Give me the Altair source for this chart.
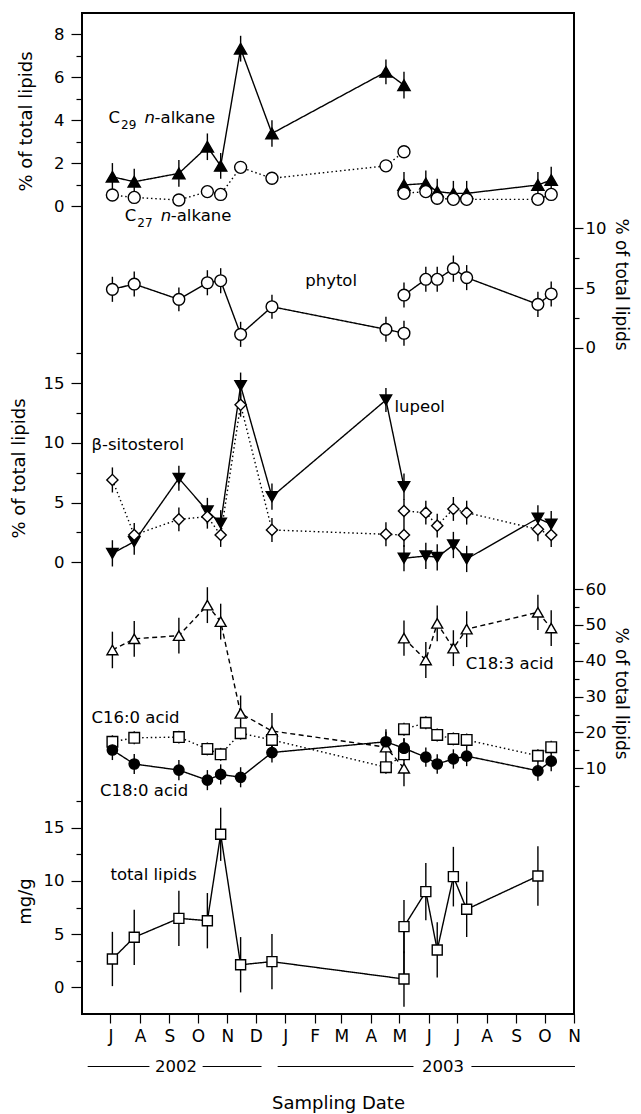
import altair as alt
import pandas as pd

FONT = "DejaVu Sans"

# ---------------- data ----------------
dates_1 = ["2002-07-03", "2002-07-26", "2002-09-11", "2002-10-11", "2002-10-25",
           "2002-11-15", "2002-12-18", "2003-04-17", "2003-05-06"]
dates_2 = ["2003-05-06", "2003-05-29", "2003-06-10", "2003-06-27", "2003-07-11",
           "2003-09-24", "2003-10-08"]
dates_tl = ["2002-07-03", "2002-07-26", "2002-09-11", "2002-10-11", "2002-10-25",
            "2002-11-15", "2002-12-18", "2003-05-06", "2003-05-06", "2003-05-29",
            "2003-06-10", "2003-06-27", "2003-07-11", "2003-09-24"]

c29_v1 = [1.36, 1.13, 1.52, 2.76, 1.87, 7.33, 3.38, 6.25, 5.63]
c29_v2 = [0.98, 1.05, 0.67, 0.59, 0.59, 0.98, 1.21]
c29_e1 = [0.64, 0.60, 0.62, 0.62, 0.60, 0.60, 0.62, 0.58, 0.62]
c29_e2 = [0.60, 0.60, 0.60, 0.58, 0.58, 0.60, 0.62]

c27_v1 = [0.51, 0.40, 0.28, 0.67, 0.54, 1.80, 1.29, 1.87, 2.53]
c27_v2 = [0.59, 0.67, 0.36, 0.31, 0.31, 0.31, 0.54]
c27_e1 = [0.15, 0.15, 0.15, 0.15, 0.15, 0.15, 0.15, 0.15, 0.15]
c27_e2 = [0.15, 0.15, 0.15, 0.15, 0.15, 0.15, 0.15]

phy_v1 = [4.89, 5.33, 4.05, 5.44, 5.61, 1.12, 3.43, 1.54, 1.21]
phy_v2 = [4.41, 5.73, 5.73, 6.62, 5.87, 3.63, 4.50]
phy_e1 = [1.05, 1.05, 1.00, 1.05, 1.05, 1.05, 1.00, 1.05, 1.05]
phy_e2 = [1.05, 1.05, 1.05, 1.10, 1.05, 1.05, 1.05]

lup_v1 = [0.75, 1.73, 7.04, 4.30, 3.27, 14.8, 5.50, 13.6, 6.34]
lup_v2 = [0.34, 0.53, 0.42, 1.45, 0.28, 3.69, 3.19]
lup_e1 = [1.10, 1.10, 1.05, 1.10, 1.10, 1.10, 1.10, 1.00, 1.10]
lup_e2 = [1.10, 1.10, 1.10, 1.10, 1.10, 1.10, 1.10]

sit_v1 = [6.90, 2.29, 3.60, 3.82, 2.29, 13.2, 2.71, 2.35, 2.29]
sit_v2 = [4.30, 4.16, 3.07, 4.47, 4.16, 2.76, 2.29]
sit_e1 = [1.05, 1.00, 1.00, 1.00, 1.00, 1.00, 1.00, 1.00, 1.00]
sit_e2 = [1.00, 1.00, 1.00, 1.00, 1.00, 1.00, 1.00]

c183_v1 = [43.0, 46.1, 47.0, 55.5, 50.9, 25.3, 20.4, 15.9, 10.0]
c183_v2 = [46.3, 40.2, 50.4, 43.5, 48.8, 53.5, 49.1]
c183_e1 = [5.1, 5.0, 5.0, 5.0, 5.0, 5.0, 5.0, 5.0, 5.0]
c183_e2 = [4.9, 5.0, 5.0, 5.0, 5.0, 4.9, 5.0]

c160_v1 = [17.4, 18.5, 18.7, 15.4, 13.9, 19.8, 17.9, 10.3, 13.9]
c160_v2 = [20.9, 22.7, 19.3, 18.2, 17.9, 13.5, 15.9]
c160_e1 = [1.8, 1.8, 1.8, 1.8, 1.8, 1.8, 1.8, 1.8, 1.8]
c160_e2 = [1.8, 1.8, 1.8, 1.8, 1.8, 1.8, 1.8]

c180_v1 = [15.1, 11.2, 9.5, 6.7, 8.3, 7.5, 14.4, 17.4, 15.6]
c180_v2 = [15.6, 13.1, 11.2, 12.6, 13.4, 9.3, 12.0]
c180_e1 = [2.8, 2.8, 2.8, 2.8, 2.8, 2.8, 2.8, 2.8, 2.8]
c180_e2 = [2.8, 2.7, 2.7, 2.7, 2.8, 2.8, 2.8]

tl_v = [2.66, 4.70, 6.48, 6.26, 14.38, 2.12, 2.41, 0.78, 5.70, 8.99, 3.51, 10.4, 7.33, 10.46]
tl_e = [2.55, 2.60, 2.60, 2.60, 2.50, 2.60, 2.60, 2.60, 2.50, 2.70, 2.60, 2.80, 2.60, 2.80]

series_names = ["C29 n-alkane", "C27 n-alkane", "phytol", "lupeol", "β-sitosterol",
                "C18:3 acid", "C16:0 acid", "C18:0 acid", "total lipids"]
month_ticks = [(2002, m) for m in range(7, 13)] + [(2003, m) for m in range(1, 12)]

# ---------------- styles ----------------
shapes = ["triangle-up", "circle", "circle", "triangle-down", "diamond",
          "triangle-up", "square", "circle", "square"]
fills = ["black", "white", "white", "black", "white", "white", "white", "black", "white"]
dashes = [[1, 0], [1.5, 2.8], [1, 0], [1, 0], [1.5, 2.8], [5, 3.5], [1.5, 2.8], [1, 0], [1, 0]]
sizes = [150, 100, 120, 150, 200, 145, 85, 110, 90]

W, H, TOP = 492, 1001, 13


def dom(va, pa, vb, pb):
    pa -= TOP
    pb -= TOP
    k = (pa - pb) / (vb - va)
    return [va - (H - pa) / k, va + pa / k]


D1 = dom(0, 206, 8, 34.3)
D2 = dom(0, 347.7, 10, 228.3)
D3 = dom(0, 562.3, 15, 383.3)
D4 = dom(10, 768.3, 60, 589)
D5 = dom(0, 987.3, 15, 827.7)

xscale = alt.Scale(type="utc", nice=False,
                   domain=[alt.DateTime(year=2002, month=6, date=1, utc=True),
                           alt.DateTime(year=2003, month=11, date=1, utc=True)])
dash_scale = alt.Scale(domain=series_names, range=dashes)
shape_scale = alt.Scale(domain=series_names, range=shapes)
fill_scale = alt.Scale(domain=series_names, range=fills)
size_scale = alt.Scale(domain=series_names, range=sizes)

x_axis = alt.Axis(values=[alt.DateTime(year=y, month=m, date=1, utc=True) for y, m in month_ticks],
                  labelExpr="substring(utcFormat(datum.value, '%b'), 0, 1)",
                  orient="bottom",
                  tickSize=9, labelPadding=5, labelFontSize=17, labelFlush=False,
                  labelOverlap=False, title="Sampling Date", titleX=256, titleY=89,
                  titleBaseline="middle", titleFontSize=18)


def rows(series, dates, vals, errs, seg):
    return [dict(date=d, value=v, lo=v - e, hi=v + e, series=series,
                 seg=series + str(seg), idx=i)
            for i, (d, v, e) in enumerate(zip(dates, vals, errs))]


def X(field="date:T"):
    return alt.X(field, scale=xscale, axis=x_axis)


def major(orient, values, title=None, tx=0, ty=0):
    kw = dict(orient=orient, values=values, labelFlush=False, labelOverlap=False)
    if orient == "left":
        kw.update(tickSize=11, labelPadding=7)
    else:
        kw.update(tickSize=9, labelPadding=2)
    if title:
        kw.update(title=title, titleX=tx, titleY=ty, titleBaseline="middle",
                  titleAngle=-90 if orient == "left" else 90,
                  titleFontSize=18 if orient == "left" else 17)
    else:
        kw.update(title=None)
    return alt.Axis(**kw)


def minor(orient, values):
    return alt.Axis(orient=orient, values=values, labels=False,
                    tickSize=6 if orient == "left" else 5, title=None)


def panel(df, ydom, maj, mino):
    ys = alt.Scale(domain=ydom, nice=False, zero=False)
    bars = alt.Chart(df).mark_rule(color="black", strokeWidth=1.4).encode(
        x=X(), y=alt.Y("lo:Q", scale=ys, axis=mino), y2="hi:Q")
    lines = alt.Chart(df).mark_line(color="black", strokeWidth=1.4).encode(
        x=X(), y=alt.Y("value:Q", scale=ys, axis=maj),
        strokeDash=alt.StrokeDash("series:N", scale=dash_scale, legend=None),
        detail="seg:N", order="idx:Q")
    pts = alt.Chart(df).mark_point(filled=True, stroke="black", strokeWidth=1.4, opacity=1).encode(
        x=X(), y=alt.Y("value:Q", scale=ys, axis=None),
        shape=alt.Shape("series:N", scale=shape_scale, legend=None),
        fill=alt.Fill("series:N", scale=fill_scale, legend=None),
        size=alt.Size("series:N", scale=size_scale, legend=None))
    return [bars, lines, pts]


def label(text, date, val, ydom, dx=0, dy=0, size=16.5, style="normal"):
    df = pd.DataFrame({"date": [date], "value": [val], "t": [text]})
    ys = alt.Scale(domain=ydom, nice=False, zero=False)
    return alt.Chart(df).mark_text(align="left", baseline="middle", dx=dx, dy=dy,
                                   fontSize=size, fontStyle=style, font=FONT,
                                   color="black").encode(
        x=X(), y=alt.Y("value:Q", scale=ys, axis=None), text="t:N")


def alkane_label(sub, date, val):
    return [label("C", date, val, D1),
            label(sub, date, val, D1, dx=12.5, dy=7, size=12),
            label("n", date, val, D1, dx=36, style="italic"),
            label("-alkane", date, val, D1, dx=46)]


df1 = pd.DataFrame(rows("C29 n-alkane", dates_1, c29_v1, c29_e1, 1) +
                   rows("C29 n-alkane", dates_2, c29_v2, c29_e2, 2) +
                   rows("C27 n-alkane", dates_1, c27_v1, c27_e1, 1) +
                   rows("C27 n-alkane", dates_2, c27_v2, c27_e2, 2))
df2 = pd.DataFrame(rows("phytol", dates_1, phy_v1, phy_e1, 1) +
                   rows("phytol", dates_2, phy_v2, phy_e2, 2))
df3 = pd.DataFrame(rows("lupeol", dates_1, lup_v1, lup_e1, 1) +
                   rows("lupeol", dates_2, lup_v2, lup_e2, 2) +
                   rows("β-sitosterol", dates_1, sit_v1, sit_e1, 1) +
                   rows("β-sitosterol", dates_2, sit_v2, sit_e2, 2))
df4 = pd.DataFrame(rows("C18:3 acid", dates_1, c183_v1, c183_e1, 1) +
                   rows("C18:3 acid", dates_2, c183_v2, c183_e2, 2) +
                   rows("C16:0 acid", dates_1, c160_v1, c160_e1, 1) +
                   rows("C16:0 acid", dates_2, c160_v2, c160_e2, 2) +
                   rows("C18:0 acid", dates_1, c180_v1, c180_e1, 1) +
                   rows("C18:0 acid", dates_2, c180_v2, c180_e2, 2))
df5 = pd.DataFrame(rows("total lipids", dates_tl, tl_v, tl_e, 1))

ttl = "% of total lipids"
layers = []
layers += panel(df1, D1, major("left", [0, 2, 4, 6, 8], ttl, -56, 108),
                minor("left", [1, 3, 5, 7]))
layers += panel(df2, D2, major("right", [0, 5, 10], ttl, 46, 271),
                minor("right", [2.5, 7.5]))
layers += panel(df3, D3, major("left", [0, 5, 10, 15], ttl, -62.5, 455),
                minor("left", [2.5, 7.5, 12.5, 17.5]))
layers += panel(df4, D4, major("right", [10, 20, 30, 40, 50, 60], ttl, 46, 680),
                minor("right", [5, 15, 25, 35, 45, 55]))
layers += panel(df5, D5, major("left", [0, 5, 10, 15], "mg/g", -57, 888),
                minor("left", [2.5, 7.5, 12.5, 17.5]))

layers += alkane_label("29", "2002-06-29", 4.09)
layers += alkane_label("27", "2002-07-16", -0.47)
layers.append(label("phytol", "2003-01-22", 5.59, D2))
layers.append(label("lupeol", "2003-04-26", 13.04, D3))
layers.append(label("β-sitosterol", "2002-06-11", 9.83, D3))
layers.append(label("C18:3 acid", "2003-07-10", 39.1, D4))
layers.append(label("C16:0 acid", "2002-06-11", 24.0, D4))
layers.append(label("C18:0 acid", "2002-06-20", 3.6, D4))
layers.append(label("total lipids", "2002-07-01", 10.55, D5))

# year brackets under the time axis
year_text = ["2002", "2003"]
year_mid = ["2002-09-08", "2003-06-16"]
year_seg_start = ["2002-06-07", "2002-10-06", "2002-12-24", "2003-07-16"]
year_seg_end = ["2002-08-11", "2002-12-07", "2003-05-16", "2003-11-02"]

yr = pd.DataFrame({"date": year_mid, "t": year_text})
layers.append(alt.Chart(yr).mark_text(fontSize=16.5, font=FONT, color="black",
                                      baseline="middle", align="center").encode(
    x=X(), y=alt.value(1054), text="t:N"))
ys_df = pd.DataFrame({"date": year_seg_start, "end": year_seg_end})
layers.append(alt.Chart(ys_df).mark_rule(color="black", strokeWidth=1.2).encode(
    x=X(), x2="end:T", y=alt.value(1053.5)))

chart = alt.layer(*layers).resolve_scale(y="independent").properties(
    width=W, height=H,
    autosize=alt.AutoSizeParams(type="none"),
    padding={"left": 74, "top": 5, "right": 58, "bottom": 100},
).configure_view(stroke="black", strokeWidth=2).configure_axis(
    labelFont=FONT, titleFont=FONT, labelFontSize=16.5, titleFontSize=18,
    titleFontWeight="normal", labelColor="black", titleColor="black",
    tickColor="black", tickWidth=1.2, domain=False, grid=False,
)

chart.save("out.html", embed_options={"renderer": "svg", "actions": False})
